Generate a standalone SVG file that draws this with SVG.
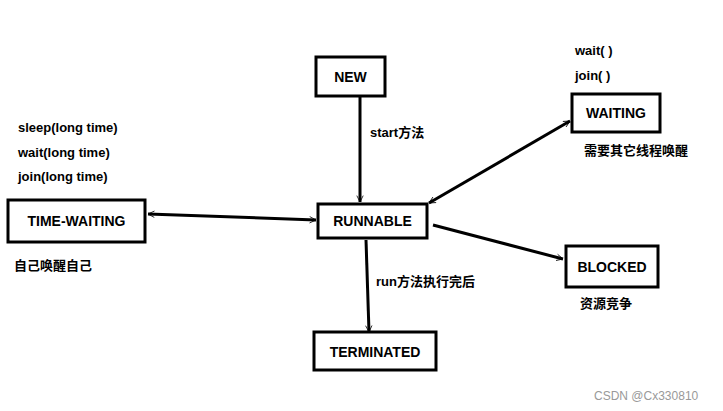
<svg xmlns="http://www.w3.org/2000/svg" width="723" height="411" viewBox="0 0 723 411">
<style>
.box{fill:#fff;stroke:#000;stroke-width:3}
.t{font-family:"Liberation Sans","Noto Sans CJK SC",sans-serif;font-weight:bold;font-size:14px;fill:#000}
.lb{font-family:"Liberation Sans","Noto Sans CJK SC",sans-serif;font-weight:bold;font-size:13px;fill:#000}
.c{stroke:#000;stroke-width:3;fill:none}
</style>
<defs>
<marker id="a" viewBox="0 0 20 20" refX="18" refY="10" markerWidth="8" markerHeight="8" orient="auto-start-reverse" markerUnits="userSpaceOnUse">
<path d="M2,2 L18,10 L2,18" fill="none" stroke="#000" stroke-width="2"/>
</marker>
</defs>
<rect width="723" height="411" fill="#fff"/>
<g id="connectors">
<line class="c" x1="360" y1="97" x2="360" y2="202" marker-end="url(#a)" style="marker-end:url(#a)"/>
<line class="c" x1="148" y1="214" x2="316" y2="220" marker-start="url(#a)" marker-end="url(#a)"/>
<line class="c" x1="429" y1="203" x2="570" y2="121" marker-start="url(#a)" marker-end="url(#a)"/>
<line class="c" x1="433" y1="225" x2="563" y2="259" marker-end="url(#a)"/>
<line class="c" x1="366" y1="240" x2="369" y2="332" marker-end="url(#a)"/>
</g>
<g id="new"><rect class="box" x="316" y="57" width="69" height="39"/><text class="t" x="350.5" y="82" text-anchor="middle">NEW</text></g>
<g id="waiting"><rect class="box" x="572" y="94" width="88" height="38"/><text class="t" x="616" y="118" text-anchor="middle">WAITING</text></g>
<g id="timewaiting"><rect class="box" x="8" y="200" width="137" height="42"/><text class="t" x="76.5" y="226" text-anchor="middle">TIME-WAITING</text></g>
<g id="runnable"><rect class="box" x="318" y="204" width="109" height="34"/><text class="t" x="372.5" y="226" text-anchor="middle">RUNNABLE</text></g>
<g id="blocked"><rect class="box" x="566" y="246" width="92" height="41"/><text class="t" x="612" y="272" text-anchor="middle">BLOCKED</text></g>
<g id="terminated"><rect class="box" x="314" y="332" width="122" height="38"/><text class="t" x="375" y="357" text-anchor="middle">TERMINATED</text></g>
<g id="labels">
<text class="lb" x="575" y="55">wait( )</text>
<text class="lb" x="575" y="80">join( )</text>
<text class="lb" x="584" y="155">需要其它线程唤醒</text>
<text class="lb" x="18" y="132">sleep(long time)</text>
<text class="lb" x="18" y="157">wait(long time)</text>
<text class="lb" x="18" y="181">join(long time)</text>
<text class="lb" x="14" y="270">自己唤醒自己</text>
<text class="lb" x="370" y="137">start方法</text>
<text class="lb" x="376" y="286">run方法执行完后</text>
<text class="lb" x="580" y="308">资源竞争</text>
<text x="594" y="400" style="font-family:'Liberation Sans',sans-serif;font-size:12px;fill:#999">CSDN @Cx330810</text>
</g>
</svg>
